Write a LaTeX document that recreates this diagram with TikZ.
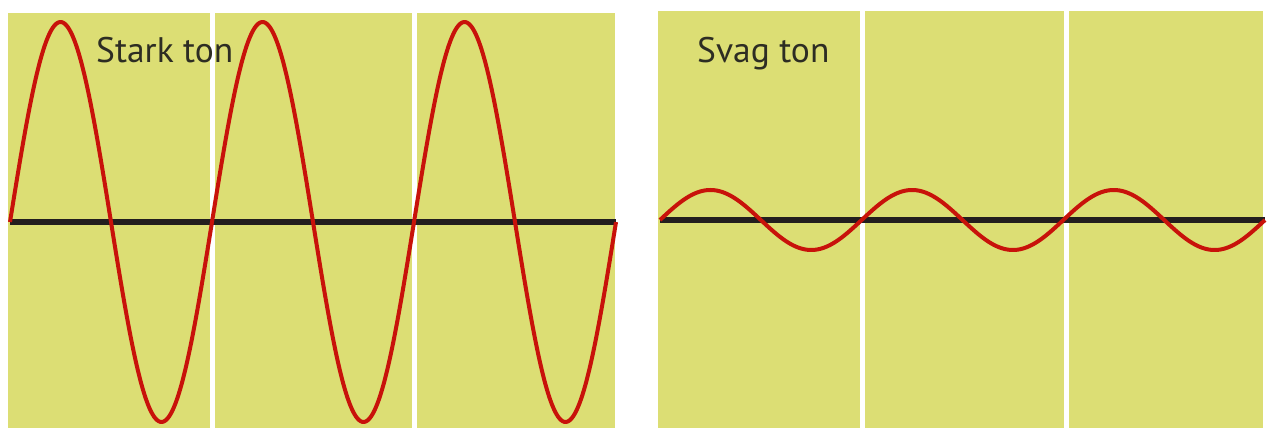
\documentclass[tikz,border=0pt]{standalone}
\usepackage{fontspec}
\setmainfont{PT Sans}
\definecolor{panel}{RGB}{220,222,116}
\definecolor{wave}{RGB}{200,18,10}
\definecolor{axisc}{RGB}{35,30,30}
\definecolor{txt}{RGB}{45,45,35}
\tikzset{
  panelbox/.style={fill=panel, draw=none},
  gap/.style={draw=white, line width=5pt},
  axisline/.style={draw=axisc, line width=6pt},
  wavecurve/.style={draw=wave, line width=4pt, line join=round},
  label/.style={font=\fontsize{35.5}{42}\selectfont, text=txt, inner sep=0pt, anchor=base west}
}
\begin{document}
\begin{tikzpicture}[x=1pt,y=1pt]
\useasboundingbox (0,0) rectangle (1267,428);
\fill[white] (0,0) rectangle (1267,428);
% panels
\path[panelbox] (8,0) rectangle (615,415);
\path[panelbox] (658,0) rectangle (1263,417);
% separators
\draw[gap] (212.5,0) -- (212.5,415);
\draw[gap] (414.5,0) -- (414.5,415);
\draw[gap] (862.5,0) -- (862.5,417);
\draw[gap] (1066,0) -- (1066,417);
% axes
\coordinate (la) at (10,206);
\coordinate (lb) at (616,206);
\coordinate (ra) at (660,208);
\coordinate (rb) at (1265,208);
\draw[axisline] (la) -- (lb);
\draw[axisline] (ra) -- (rb);
% waves
\draw[wavecurve] plot[domain=10:616, samples=400, smooth] (\x, {206+200*sin((\x-10)/202*360)});
\draw[wavecurve] plot[domain=660:1265, samples=300, smooth] (\x, {208+30*sin((\x-660)/201.67*360)});
% labels
\node[label] (stark) at (96,365) {Stark ton};
\node[label] (svag) at (697,365) {Svag ton};
\end{tikzpicture}
\end{document}
